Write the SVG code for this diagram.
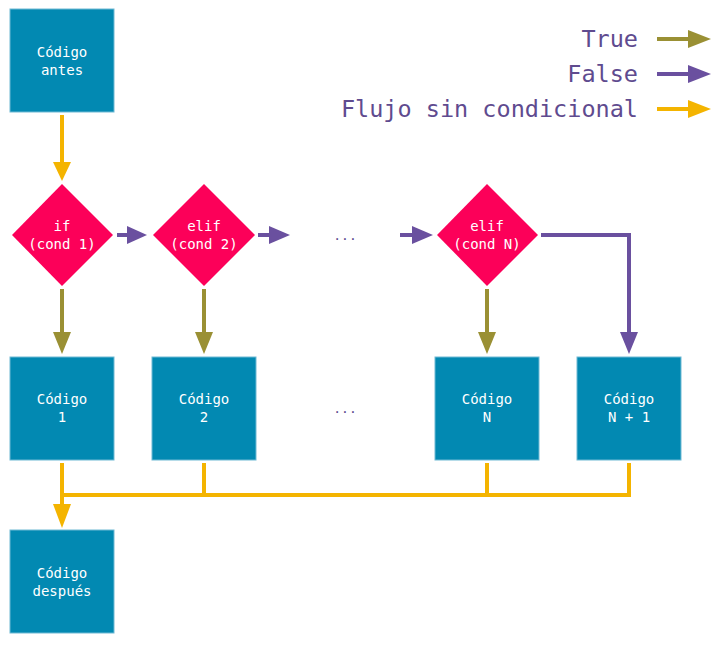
<svg xmlns="http://www.w3.org/2000/svg" width="724" height="646" viewBox="0 0 724 646">
<style>
.box{fill:#0289b2;stroke:#6fb9d4;stroke-width:1}
.dia{fill:#fc0059}
.nt{font-family:"DejaVu Sans Mono","Liberation Mono",monospace;font-size:14px;fill:#ffffff;text-anchor:middle}
.lg{font-family:"DejaVu Sans Mono","Liberation Mono",monospace;font-size:23.5px;fill:#5f4b8f;text-anchor:end}
.dots{font-family:"DejaVu Sans Mono","Liberation Mono",monospace;font-size:13px;fill:#5f4b8f;text-anchor:middle}
.t{stroke:#9a9034;stroke-width:4;fill:none}
.f{stroke:#6a509f;stroke-width:4;fill:none}
.y{stroke:#f4b400;stroke-width:4;fill:none}
.th{fill:#9a9034}.fh{fill:#6a509f}.yh{fill:#f4b400}
</style>
<rect width="724" height="646" fill="#ffffff"/>
<g id="legend">
<text class="lg" x="638" y="47">True</text>
<text class="lg" x="638" y="82">False</text>
<text class="lg" x="638" y="117">Flujo sin condicional</text>
<line class="t" x1="657" y1="39" x2="692" y2="39"/><polygon class="th" points="688,30 711,39 688,48"/>
<line class="f" x1="657" y1="74" x2="692" y2="74"/><polygon class="fh" points="688,65 711,74 688,83"/>
<line class="y" x1="657" y1="109" x2="692" y2="109"/><polygon class="yh" points="688,100 711,109 688,118"/>
</g>
<g id="connectors">
<line class="y" x1="62" y1="115" x2="62" y2="165"/><polygon class="yh" points="53,162 71,162 62,181"/>
<line class="f" x1="117" y1="235" x2="130" y2="235"/><polygon class="fh" points="127,226 147,235 127,244"/>
<line class="f" x1="258" y1="235" x2="272" y2="235"/><polygon class="fh" points="269,226 290,235 269,244"/>
<line class="f" x1="400" y1="235" x2="415" y2="235"/><polygon class="fh" points="412,226 433,235 412,244"/>
<polyline class="f" points="541,235 629,235 629,336"/><polygon class="fh" points="620,332 638,332 629,354"/>
<line class="t" x1="62" y1="289" x2="62" y2="336"/><polygon class="th" points="53,332 71,332 62,354"/>
<line class="t" x1="204" y1="289" x2="204" y2="336"/><polygon class="th" points="195,332 213,332 204,354"/>
<line class="t" x1="487" y1="289" x2="487" y2="336"/><polygon class="th" points="478,332 496,332 487,354"/>
<line class="y" x1="62" y1="463" x2="62" y2="510"/><polygon class="yh" points="53,504 71,504 62,528"/>
<line class="y" x1="204" y1="463" x2="204" y2="495"/>
<line class="y" x1="487" y1="463" x2="487" y2="495"/>
<polyline class="y" points="62,495 629,495 629,463"/>
</g>
<g id="antes"><rect class="box" x="10" y="9" width="104" height="103"/><text class="nt" x="62" y="57">Código</text><text class="nt" x="62" y="75">antes</text></g>
<g id="if1"><polygon class="dia" points="62,184 113,235 62,286 12,235"/><text class="nt" x="62" y="231">if</text><text class="nt" x="62" y="249">(cond 1)</text></g>
<g id="elif2"><polygon class="dia" points="204,184 255,235 204,286 153,235"/><text class="nt" x="204" y="231">elif</text><text class="nt" x="204" y="249">(cond 2)</text></g>
<g id="dots1"><text class="dots" x="345" y="240">...</text></g>
<g id="elifN"><polygon class="dia" points="487,184 538,235 487,286 437,235"/><text class="nt" x="487" y="231">elif</text><text class="nt" x="487" y="249">(cond N)</text></g>
<g id="code1"><rect class="box" x="10" y="357" width="104" height="103"/><text class="nt" x="62" y="404">Código</text><text class="nt" x="62" y="422">1</text></g>
<g id="code2"><rect class="box" x="152" y="357" width="104" height="103"/><text class="nt" x="204" y="404">Código</text><text class="nt" x="204" y="422">2</text></g>
<g id="dots2"><text class="dots" x="345" y="413">...</text></g>
<g id="codeN"><rect class="box" x="435" y="357" width="104" height="103"/><text class="nt" x="487" y="404">Código</text><text class="nt" x="487" y="422">N</text></g>
<g id="codeN1"><rect class="box" x="577" y="357" width="104" height="103"/><text class="nt" x="629" y="404">Código</text><text class="nt" x="629" y="422">N + 1</text></g>
<g id="despues"><rect class="box" x="10" y="530" width="104" height="103"/><text class="nt" x="62" y="578">Código</text><text class="nt" x="62" y="596">después</text></g>
</svg>
